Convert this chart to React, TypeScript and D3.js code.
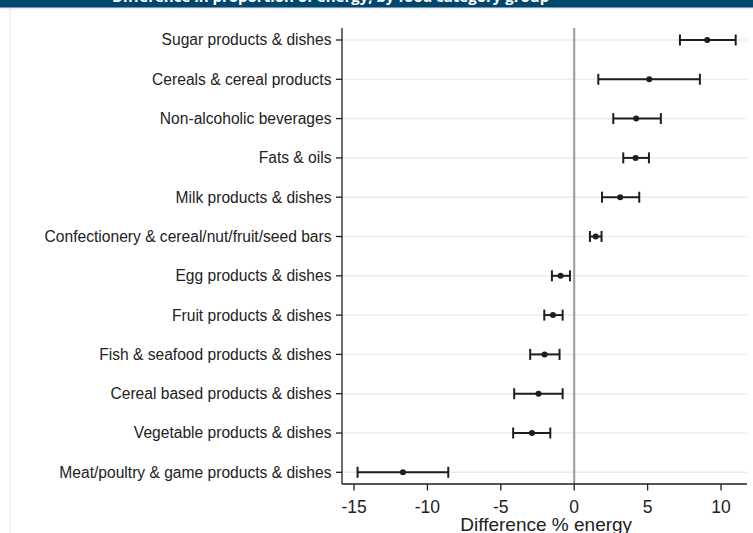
import React from "react";
import * as d3 from "d3";

const categories = [
  "Sugar products & dishes",
  "Cereals & cereal products",
  "Non-alcoholic beverages",
  "Fats & oils",
  "Milk products & dishes",
  "Confectionery & cereal/nut/fruit/seed bars",
  "Egg products & dishes",
  "Fruit products & dishes",
  "Fish & seafood products & dishes",
  "Cereal based products & dishes",
  "Vegetable products & dishes",
  "Meat/poultry & game products & dishes",
];
const estimates = [9.06, 5.11, 4.22, 4.18, 3.13, 1.46, -0.93, -1.45, -2.02, -2.43, -2.88, -11.67];
const lowerCI = [7.2, 1.64, 2.66, 3.34, 1.89, 1.07, -1.52, -2.04, -3.0, -4.09, -4.16, -14.76];
const upperCI = [11.0, 8.56, 5.9, 5.09, 4.43, 1.86, -0.29, -0.79, -1.0, -0.79, -1.63, -8.58];
const xTicks = [-15, -10, -5, 0, 5, 10];
const xTitle = "Difference % energy";
const bannerTitle = "Difference in proportion of energy, by food category group";

const W = 753;
const H = 533;
const plotLeft = 342;
const plotRight = 747;
const plotTop = 28;
const plotBottom = 484;

export default function App() {
  const x = d3.scaleLinear().domain([-15.82, 11.77]).range([plotLeft, plotRight]);
  const y = d3.scalePoint<string>().domain(categories).range([40, 472.3]);
  const font = "Arial, 'Liberation Sans', Helvetica, sans-serif";
  const ink = "#1e1e1e";

  return (
    <svg
      width={W}
      height={H}
      style={{ position: "absolute", left: 0, top: 0, display: "block", background: "#fff" }}
    >
      <defs>
        <linearGradient id="shadow" x1="0" y1="0" x2="0" y2="1">
          <stop offset="0" stopColor="#000" stopOpacity={0.12} />
          <stop offset="1" stopColor="#000" stopOpacity={0} />
        </linearGradient>
      </defs>
      {/* banner */}
      <rect x={0} y={0} width={W} height={7.5} fill="#01466c" />
      <rect x={0} y={7.5} width={W} height={3} fill="url(#shadow)" />
      <text x={112} y={1.5} fill="#fff" fontFamily="'Open Sans', sans-serif" fontWeight={700} fontSize={15}>
        {bannerTitle}
      </text>
      {/* left page border */}
      <line x1={10} x2={10} y1={8} y2={H} stroke="#e6e6e6" strokeWidth={1} />

      {/* grid lines */}
      {categories.map((c) => (
        <line key={"g" + c} x1={plotLeft} x2={plotRight} y1={y(c)} y2={y(c)} stroke="#ebebeb" strokeWidth={1.5} />
      ))}
      {/* zero line */}
      <line x1={x(0)} x2={x(0)} y1={plotTop} y2={plotBottom} stroke="#9a9a9a" strokeWidth={2} />

      {/* axes */}
      <line x1={plotLeft} x2={plotLeft} y1={plotTop} y2={plotBottom} stroke={ink} strokeWidth={1.3} />
      <line x1={plotLeft} x2={plotRight} y1={plotBottom} y2={plotBottom} stroke={ink} strokeWidth={1.3} />

      {/* y ticks & labels */}
      {categories.map((c) => (
        <g key={"y" + c}>
          <line x1={plotLeft - 6} x2={plotLeft} y1={y(c)} y2={y(c)} stroke={ink} strokeWidth={1.3} />
          <text
            x={plotLeft - 10.5}
            y={y(c)}
            dy="0.35em"
            textAnchor="end"
            fontFamily={font}
            fontSize={15.6}
            fill="#222"
          >
            {c}
          </text>
        </g>
      ))}

      {/* x ticks & labels */}
      {xTicks.map((t) => (
        <g key={"x" + t}>
          <line x1={x(t)} x2={x(t)} y1={plotBottom} y2={plotBottom + 6.5} stroke={ink} strokeWidth={1.3} />
          <text x={x(t)} y={513} textAnchor="middle" fontFamily={font} fontSize={17.5} fill="#222">
            {t < 0 ? "-" + Math.abs(t) : String(t)}
          </text>
        </g>
      ))}
      <text x={x(0) - 28} y={530.5} textAnchor="middle" fontFamily={font} fontSize={19} fill="#222">
        {xTitle}
      </text>

      {/* error bars */}
      {categories.map((c, i) => {
        const cy = y(c) as number;
        return (
          <g key={"e" + c} stroke={ink} strokeWidth={2}>
            <line x1={x(lowerCI[i])} x2={x(upperCI[i])} y1={cy} y2={cy} />
            <line x1={x(lowerCI[i])} x2={x(lowerCI[i])} y1={cy - 5.5} y2={cy + 5.5} />
            <line x1={x(upperCI[i])} x2={x(upperCI[i])} y1={cy - 5.5} y2={cy + 5.5} />
            <circle cx={x(estimates[i])} cy={cy} r={3} fill={ink} stroke="none" />
          </g>
        );
      })}
    </svg>
  );
}
